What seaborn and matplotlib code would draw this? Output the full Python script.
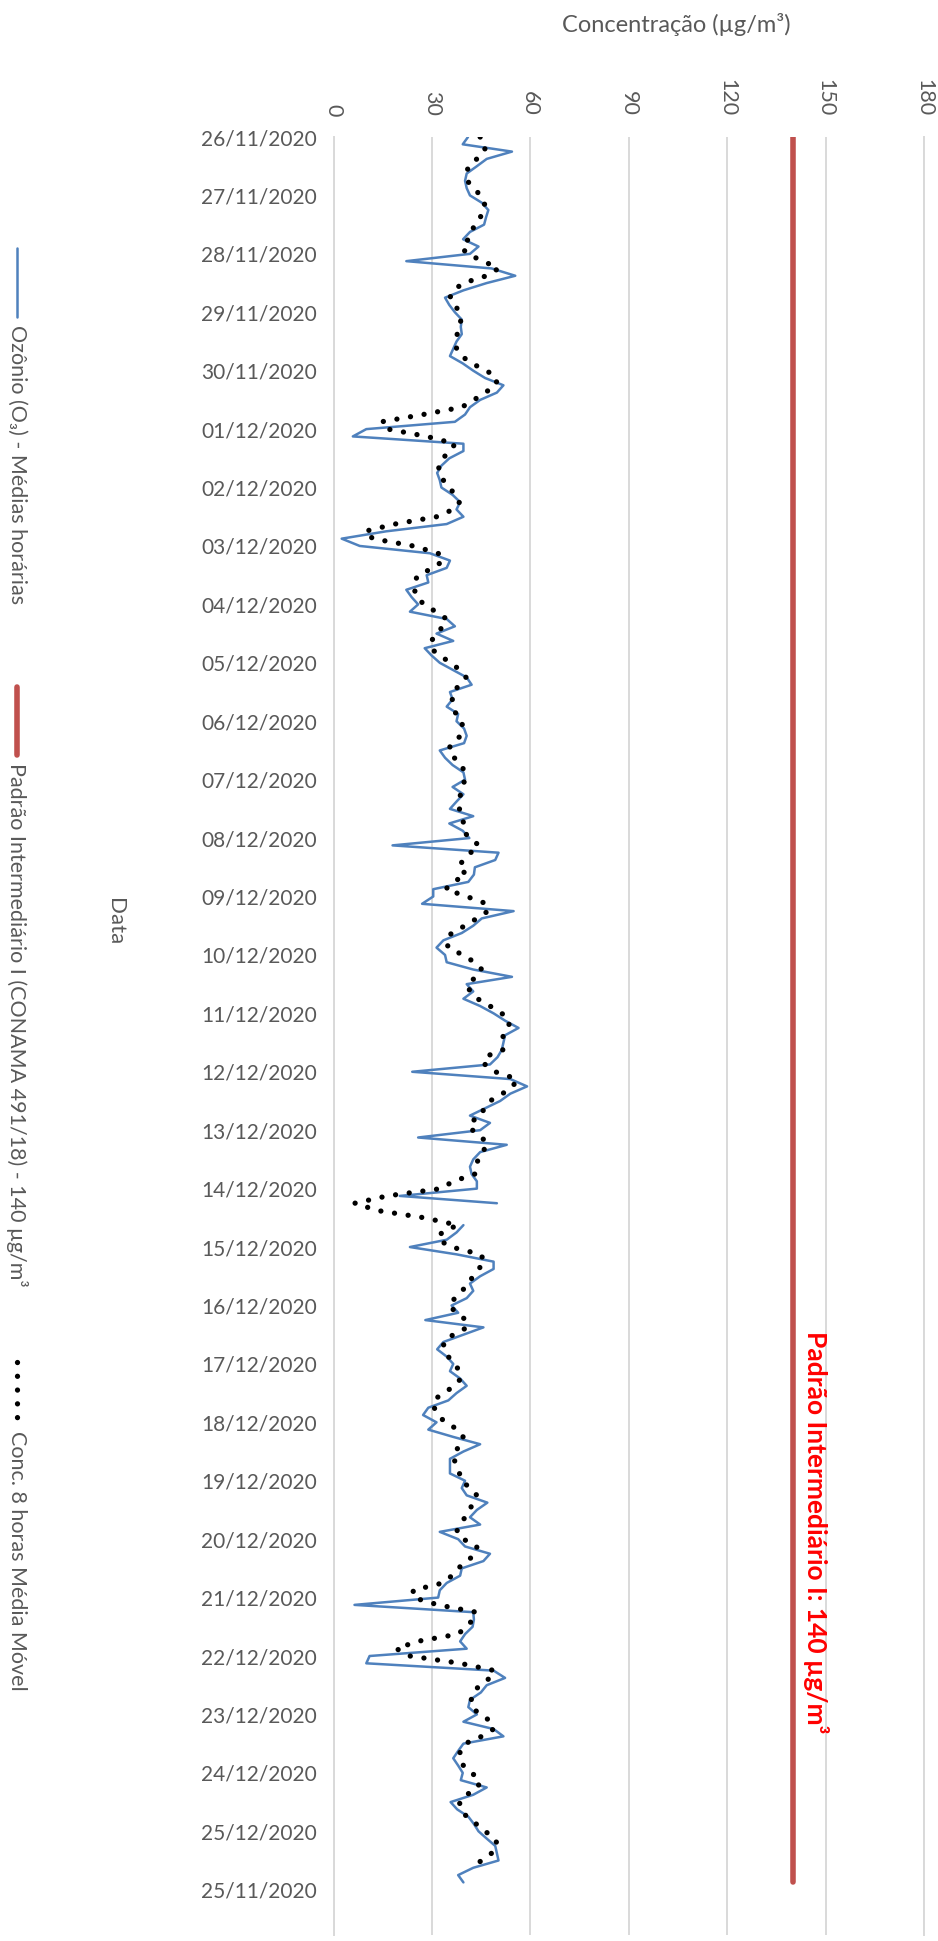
import matplotlib
matplotlib.use("Agg")
import matplotlib.pyplot as plt
from matplotlib.lines import Line2D
import numpy as np
import pandas as pd
import seaborn as sns

# --- data (3-hour steps from 26/11/2020 00h) ---
date_labels = [
    "26/11/2020", "27/11/2020", "28/11/2020", "29/11/2020", "30/11/2020",
    "01/12/2020", "02/12/2020", "03/12/2020", "04/12/2020", "05/12/2020",
    "06/12/2020", "07/12/2020", "08/12/2020", "09/12/2020", "10/12/2020",
    "11/12/2020", "12/12/2020", "13/12/2020", "14/12/2020", "15/12/2020",
    "16/12/2020", "17/12/2020", "18/12/2020", "19/12/2020", "20/12/2020",
    "21/12/2020", "22/12/2020", "23/12/2020", "24/12/2020", "25/12/2020",
    "25/11/2020",
]
value_ticks = [0, 30, 60, 90, 120, 150, 180]
step_hours = 3
nan = np.nan

ozonio = [
    41.0, 39.4, 54.4, 46.7, 43.7, 40.6, 40.1, 40.6, 41.6, 45.2,
    47.2, 46.5, 45.9, 41.6, 39.5, 44.2, 41.6, 22.2, 48.2, 55.4,
    46.7, 39.6, 34.0, 35.3, 37.0, 39.1, 38.8, 39.1, 37.5, 36.5,
    35.5, 39.4, 42.6, 46.2, 51.8, 49.8, 44.7, 41.6, 40.1, 37.0,
    10.0, 5.9, 39.6, 39.6, 35.3, 32.9, 31.6, 32.4, 32.9, 36.3,
    38.6, 37.5, 39.6, 34.5, 16.0, 2.5, 8.0, 29.4, 35.5, 34.5,
    28.4, 28.9, 22.2, 23.8, 25.8, 23.3, 34.5, 37.0, 31.4, 36.5,
    27.8, 29.9, 32.4, 36.5, 40.6, 42.1, 35.5, 36.3, 34.5, 38.0,
    37.5, 39.8, 40.6, 39.8, 32.4, 34.0, 36.3, 39.6, 40.1, 36.3,
    39.6, 37.5, 35.5, 42.6, 35.3, 39.4, 41.4, 18.0, 50.3, 49.3,
    43.1, 42.8, 41.1, 30.4, 30.4, 27.0, 54.9, 45.2, 42.6, 39.1,
    33.5, 31.4, 34.0, 34.5, 42.6, 54.4, 40.6, 42.6, 39.6,
    44.7, 48.8, 52.3, 56.4, 52.3, 51.8, 51.3, 50.0, 47.7, 24.0,
    53.9, 59.0, 53.9, 50.8, 46.2, 41.6, 47.7, 44.7, 25.8, 52.8,
    44.7, 42.6, 41.6, 42.1, 43.7, 43.7, 20.2, 49.8, nan, nan,
    39.6, 37.5, 34.5, 23.3, 37.5, 48.8, 48.8, 44.7, 41.6, 42.6,
    40.6,
    36.0, 38.0, 28.0, 45.7, 39.6, 33.5, 31.6, 34.5, 36.5, 35.5,
    38.6, 40.6, 37.5, 35.0, 28.9, 27.3, 31.4, 28.9, 36.5, 44.7,
    39.6, 35.5, 35.5, 35.5, 40.1, 39.1, 40.6, 46.9, 43.7, 41.6,
    44.7, 32.4, 38.0, 40.1, 47.7, 45.7, 39.1, 38.6, 34.5,
    32.4, 31.9, 6.4, 42.6, 42.8, 42.4, 40.1, 38.6, 40.6, 11.0,
    10.0, 48.8, 52.3, 46.7, 44.9, 41.6, 41.1, 43.7, 39.6, 48.8,
    51.8, 39.6, 38.0, 36.5, 38.0, 39.4, 38.8, 46.7, 42.6, 35.7,
    37.7, 41.1, 42.8, 44.2, 46.7, 49.3, 49.8, 50.3, 42.6, 38.0,
    39.6,
]

media_movel = [
    44.7, 46.4, 46.0, 43.7, 41.1, 40.6, 40.8, 42.6, 44.9, 46.0,
    46.2, 44.7, 42.8, 42.4, 41.1, 39.1, 40.6, 45.7, 50.3, 46.7,
    39.6, 36.5, 35.5, 37.0, 38.4, 38.8, 38.6, 37.7, 37.5, 37.5,
    39.1, 42.1, 46.7, 49.8, 49.6, 46.2, 42.8, 39.1, 27.3, 14.6,
    16.6, 28.4, 37.0, 35.7, 33.2, 32.1, 32.1, 33.5, 35.3, 37.1,
    38.4, 36.5, 31.4, 18.7, 9.5, 12.0, 24.3, 31.9, 33.5, 30.4,
    25.8, 24.5, 24.7, 25.3, 27.6, 31.2, 34.5, 33.5, 31.2, 29.9,
    29.6, 32.4, 35.7, 38.6, 40.4, 38.6, 36.3, 36.2, 36.7, 37.3,
    39.1, 39.4, 38.8, 36.0, 35.0, 36.8, 39.1, 39.9, 40.0, 39.4,
    38.7, 38.4, 38.4, 38.6, 39.8, 39.6, 41.4, 44.4, 41.8, 39.6,
    38.0, 40.6, 36.5, 34.2, 40.6, 46.7, 47.1, 43.7, 40.1, 36.0,
    34.3, 35.0, 39.4, 43.0, 45.2, 43.5, 40.8, 41.6, 43.9,
    47.7, 51.3, 53.7, 53.3, 51.8, 51.1, 51.6, 45.9, 46.2, 49.3,
    55.9, 54.7, 51.5, 47.7, 45.9, 45.0, 41.4, 42.4, 45.2, 47.2,
    45.2, 43.9, 44.0, 43.1, 36.5, 32.7, 16.4, 6.5, 13.4, 27.8,
    37.8, 33.0, 31.9, 36.0, 44.7, 46.3, 44.2, 42.4, 41.4, 39.1,
    37.0,
    35.2, 37.5, 40.4, 40.8, 36.5, 33.5, 33.7, 35.0, 36.7, 38.6,
    38.8, 37.0, 33.5, 30.4, 30.7, 31.9, 34.0, 38.0, 39.5, 39.1,
    36.9, 36.6, 37.8, 38.4, 39.1, 41.6, 43.7, 42.4, 41.6, 40.1,
    38.6, 37.5, 39.6, 43.7, 43.5, 40.6, 38.0, 36.1, 33.3,
    24.3, 24.3, 31.9, 43.5, 42.6, 40.4, 38.0, 25.5, 19.2, 23.3,
    38.6, 49.1, 47.7, 44.7, 42.4, 42.0, 42.1, 44.7, 48.2, 48.8,
    45.2, 40.1, 38.6, 38.4, 39.6, 42.1, 44.7, 44.0, 40.6, 38.4,
    38.8, 40.6, 43.5, 46.2, 49.3, 50.0, 48.2, 45.2, 41.6, nan,
    nan,
]

padrao = 140

W, H = 938, 1941


def fx(px):
    return px / W


def fy(py):
    return 1 - py / H


horas = np.arange(len(ozonio)) * step_hours
df = pd.DataFrame({"hora": horas, "ozonio": ozonio, "media": media_movel})
df["segmento"] = df["ozonio"].isna().cumsum()
df["padrao"] = padrao

sns.set_theme(style="white")
plt.rcParams["font.family"] = ["Lato", "DejaVu Sans"]
grey = "#595959"
dots = (0, (0.01, 2.6))

fig = plt.figure(figsize=(W / 100, H / 100), dpi=100)
ax = fig.add_axes([fx(333.5), fy(1935), fx(924) - fx(333.5), fy(137) - fy(1935)])

sns.lineplot(data=df.dropna(subset=["ozonio"]), x="ozonio", y="hora",
             units="segmento", estimator=None, orient="y", sort=False,
             color="#4F81BD", lw=1.8, ax=ax, legend=False)
sns.lineplot(data=df, x="padrao", y="hora", orient="y", estimator=None,
             color="#C0504D", lw=4, ax=ax, legend=False)
sns.lineplot(data=df.dropna(subset=["media"]), x="media", y="hora",
             orient="y", estimator=None, sort=False, color="black", lw=3.8,
             ax=ax, legend=False, linestyle=dots, dash_capstyle="round")

ax.set_xlim(0, 180)
ax.set_ylim(720 * (1935 - 137) / (1889.7 - 137), 0)
ax.xaxis.tick_top()
ax.set_xticks(value_ticks)
ax.set_xticklabels([str(v) for v in value_ticks], rotation=-90,
                   fontsize=15.5, color=grey, va="bottom")
ax.set_yticks(np.arange(len(date_labels)) * 24)
ax.set_yticklabels(date_labels, fontsize=15, color=grey)
ax.tick_params(axis="x", length=0, pad=15)
ax.tick_params(axis="y", length=0, pad=12)
ax.set_xlabel("")
ax.set_ylabel("")
ax.grid(axis="x", color="#D9D9D9", lw=1.4)
ax.grid(axis="y", visible=False)
for side in ["top", "bottom"]:
    ax.spines[side].set_visible(False)
for side in ["left", "right"]:
    ax.spines[side].set_color("#D9D9D9")
    ax.spines[side].set_linewidth(1.4)

ax.text(147, 573, "Padrão Intermediário I: 140 µg/m³", rotation=-90,
        ha="center", va="center", color="#FF0000", fontsize=19,
        fontweight="bold")

fig.text(fx(676), fy(25), "Concentração (µg/m³)", ha="center", va="center",
         fontsize=17, color=grey)
fig.text(fx(115), fy(922), "Data", rotation=-90, ha="center", va="center",
         fontsize=16, color=grey)

# legend, drawn rotated like the rest of the chart
legend_items = [
    ("Ozônio (O₃) - Médias horárias", dict(color="#4F81BD", lw=1.8), 248, 317),
    ("Padrão Intermediário I (CONAMA 491/18) - 140 µg/m³",
     dict(color="#C0504D", lw=4), 687, 755),
    ("Conc. 8 horas Média Móvel",
     dict(color="black", lw=3.8, linestyle=dots, dash_capstyle="round"),
     1362, 1423),
]
for label, style, y0, y1 in legend_items:
    fig.add_artist(Line2D([fx(17), fx(17)], [fy(y0), fy(y1)],
                          transform=fig.transFigure, **style))
    fig.text(fx(17), fy(y1 + 8), label, rotation=-90, ha="center", va="top",
             fontsize=15.5, color=grey)

fig.savefig("out.png", dpi=100)
